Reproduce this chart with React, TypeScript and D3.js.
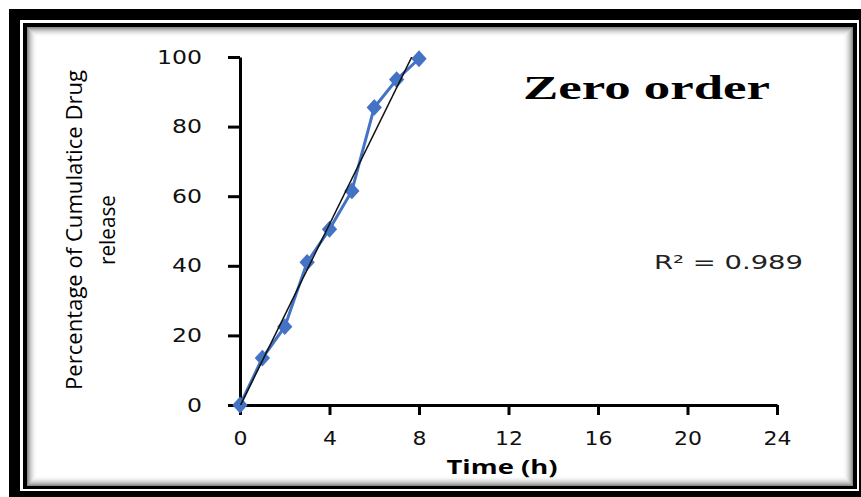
import React, { useEffect, useRef } from 'react';
import * as d3 from 'd3';

// data
const times = [0, 1, 2, 3, 4, 5, 6, 7, 8];
const released = [0, 13.5, 22.5, 41, 50.5, 61.5, 85.5, 93.5, 99.5];
const xTicks = [0, 4, 8, 12, 16, 20, 24];
const yTicks = [0, 20, 40, 60, 80, 100];

const App = () => {
  const svgRef = useRef<SVGSVGElement>(null);

  useEffect(() => {
    if (!svgRef.current) return;
    const svg = d3.select(svgRef.current);
    svg.selectAll('*').remove();

    const width = 861;
    const height = 497;
    svg.attr('width', width).attr('height', height);

    // frame: black border, white line, black line, shaded panel
    svg.append('rect').attr('x', 9).attr('y', 9).attr('width', 860).attr('height', 495).attr('fill', '#000');
    svg.append('rect').attr('x', 20).attr('y', 20).attr('width', 839).attr('height', 471).attr('fill', '#fff');
    svg.append('rect').attr('x', 23).attr('y', 23).attr('width', 834).attr('height', 466).attr('fill', '#000');
    const px = 27, py = 27, pw = 826, ph = 459;
    svg.append('rect').attr('x', px).attr('y', py).attr('width', pw).attr('height', ph).attr('fill', '#fff');
    const rings = 10;
    for (let i = 0; i < rings; i++) {
      const o = 0.45 * Math.pow(1 - i / rings, 2);
      svg.append('rect')
        .attr('x', px + i + 0.5)
        .attr('y', py + i + 0.5)
        .attr('width', pw - 2 * i - 1)
        .attr('height', ph - 2 * i - 1)
        .attr('fill', 'none')
        .attr('stroke', '#000')
        .attr('stroke-opacity', o);
    }

    const x = d3.scaleLinear().domain([0, 24]).range([240, 777]);
    const y = d3.scaleLinear().domain([0, 100]).range([405, 57]);

    const tickFont = "'DejaVu Sans', Verdana, sans-serif";

    // y axis
    const yAxis = svg.append('g')
      .attr('transform', `translate(${x(0)},0)`)
      .call(d3.axisLeft(y).tickValues(yTicks).tickSize(12).tickPadding(26).tickSizeOuter(0));
    yAxis.select('.domain').attr('stroke', '#000').attr('stroke-width', 3);
    yAxis.selectAll('.tick line').attr('stroke', '#000').attr('stroke-width', 3);
    yAxis.selectAll('.tick text')
      .attr('font-family', tickFont)
      .attr('font-size', 19)
      .attr('fill', '#111')
      .attr('textLength', (d: any) => String(d).length * 15)
      .attr('lengthAdjust', 'spacingAndGlyphs');

    // x axis
    const xAxis = svg.append('g')
      .attr('transform', `translate(0,${y(0)})`)
      .call(d3.axisBottom(x).tickValues(xTicks).tickSize(10).tickPadding(17).tickSizeOuter(0));
    xAxis.select('.domain').attr('stroke', '#000').attr('stroke-width', 3);
    xAxis.selectAll('.tick line').attr('stroke', '#000').attr('stroke-width', 3);
    xAxis.selectAll('.tick text')
      .attr('font-family', tickFont)
      .attr('font-size', 19)
      .attr('fill', '#111')
      .attr('textLength', (d: any) => String(d).length * 14)
      .attr('lengthAdjust', 'spacingAndGlyphs');

    // linear trendline, clipped to the plot area like Excel does
    const mx = d3.mean(times) as number;
    const my = d3.mean(released) as number;
    const sxy = d3.sum(times, (t, i) => (t - mx) * (released[i] - my));
    const sxx = d3.sum(times, (t) => (t - mx) * (t - mx));
    const slope = sxy / sxx;
    const intercept = my - slope * mx;

    svg.append('clipPath').attr('id', 'plotClip')
      .append('rect')
      .attr('x', x(0)).attr('y', y(100))
      .attr('width', x(24) - x(0)).attr('height', y(0) - y(100));

    const [t0, t1] = d3.extent(times) as [number, number];

    // data series
    const line = d3.line<number>()
      .x((d) => x(d))
      .y((d, i) => y(released[i]));

    svg.append('path')
      .datum(times)
      .attr('d', line)
      .attr('fill', 'none')
      .attr('stroke', '#4472c4')
      .attr('stroke-width', 3);

    const diamond = d3.symbol().type(d3.symbolDiamond).size(90);
    svg.selectAll('.marker')
      .data(times)
      .enter()
      .append('path')
      .attr('class', 'marker')
      .attr('d', diamond)
      .attr('transform', (d, i) => `translate(${x(d)},${y(released[i])}) scale(1.5,0.95)`)
      .attr('fill', '#4472c4');

    svg.append('line')
      .attr('clip-path', 'url(#plotClip)')
      .attr('x1', x(t0)).attr('y1', y(intercept + slope * t0))
      .attr('x2', x(t1)).attr('y2', y(intercept + slope * t1))
      .attr('stroke', '#111')
      .attr('stroke-width', 1.5);

    // title
    svg.append('text')
      .attr('x', 523)
      .attr('y', 99)
      .attr('font-family', "'Liberation Serif', 'Times New Roman', serif")
      .attr('font-weight', 'bold')
      .attr('font-size', 33)
      .attr('fill', '#000')
      .attr('textLength', 247)
      .attr('lengthAdjust', 'spacingAndGlyphs')
      .text('Zero order');

    // R squared
    svg.append('text')
      .attr('x', 654)
      .attr('y', 269)
      .attr('font-family', tickFont)
      .attr('font-size', 19)
      .attr('fill', '#222')
      .attr('textLength', 149)
      .attr('lengthAdjust', 'spacingAndGlyphs')
      .text('R² = 0.989');

    // axis titles
    svg.append('text')
      .attr('transform', 'translate(82,230) rotate(-90)')
      .attr('text-anchor', 'middle')
      .attr('font-family', "'Open Sans', 'Liberation Sans', sans-serif")
      .attr('font-size', 22)
      .attr('fill', '#000')
      .attr('textLength', 320)
      .attr('lengthAdjust', 'spacingAndGlyphs')
      .text('Percentage of Cumulatice Drug');

    svg.append('text')
      .attr('transform', 'translate(115,230) rotate(-90)')
      .attr('text-anchor', 'middle')
      .attr('font-family', "'Open Sans', 'Liberation Sans', sans-serif")
      .attr('font-size', 22)
      .attr('fill', '#000')
      .attr('textLength', 70)
      .attr('lengthAdjust', 'spacingAndGlyphs')
      .text('release');

    svg.append('text')
      .attr('x', 502)
      .attr('y', 474)
      .attr('text-anchor', 'middle')
      .attr('font-family', "'Open Sans', 'Liberation Sans', sans-serif")
      .attr('font-weight', 'bold')
      .attr('font-size', 19)
      .attr('fill', '#000')
      .attr('textLength', 111)
      .attr('lengthAdjust', 'spacingAndGlyphs')
      .text('Time (h)');
  }, []);

  return (
    <svg ref={svgRef} style={{ position: 'absolute', left: 0, top: 0, display: 'block' }}></svg>
  );
};

export default App;
